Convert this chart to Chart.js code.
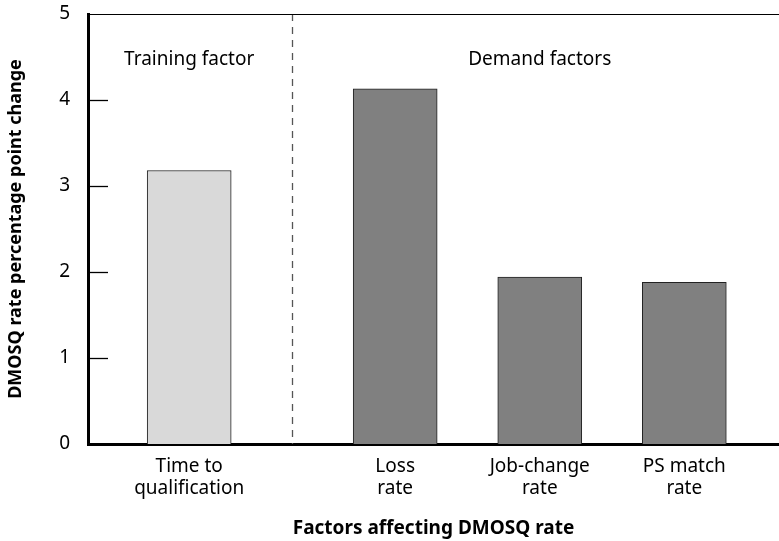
<!DOCTYPE html>
<html lang="en">
<head>
  <meta charset="UTF-8">
  <title>DMOSQ rate factors</title>
  <script src="https://cdn.jsdelivr.net/npm/chart.js"></script>
  <style>
    html, body { margin: 0; padding: 0; background: #fff; }
    #wrap { width: 779px; height: 541px; }
  </style>
</head>
<body>
  <div id="wrap"><canvas id="chart" width="779" height="541"></canvas></div>

  <script>
    // data
    const categories = [['Time to', 'qualification'], ['Loss', 'rate'], ['Job-change', 'rate'], ['PS match', 'rate']];
    const values = [3.18, 4.13, 1.94, 1.88];
    const slots = [0.7, 2.125, 3.125, 4.125];   // category positions along x (gap between groups)
    const groups = ['Training factor', 'Demand factors'];
    const groupSlots = [0.7, 3.125];
    const dividerAt = 1.4125;
    const yTicks = [0, 1, 2, 3, 4, 5];
    const barColors = ['#d9d9d9', '#808080', '#808080', '#808080'];

    const FONT = '"Noto Sans", "Open Sans", sans-serif';

    // top frame line, inward y ticks, dashed divider, group headings
    const decor = {
      id: 'decor',
      beforeDatasetsDraw(chart) {
        const { ctx, chartArea: a, scales: { x, y } } = chart;
        ctx.save();
        // dashed divider
        const dx = Math.round(x.getPixelForValue(dividerAt)) + 0.5;
        ctx.strokeStyle = '#555';
        ctx.lineWidth = 1.3;
        ctx.setLineDash([7, 6]);
        ctx.beginPath();
        ctx.moveTo(dx, a.top);
        ctx.lineTo(dx, a.bottom);
        ctx.stroke();
        ctx.setLineDash([]);
        // top line
        ctx.strokeStyle = '#000';
        ctx.lineWidth = 1.2;
        ctx.beginPath();
        ctx.moveTo(a.left, a.top + 0.5);
        ctx.lineTo(a.right, a.top + 0.5);
        ctx.stroke();
        // ticks pointing inward
        ctx.lineWidth = 1.3;
        yTicks.slice(1, -1).forEach(v => {
          const py = Math.round(y.getPixelForValue(v)) + 0.5;
          ctx.beginPath();
          ctx.moveTo(a.left, py);
          ctx.lineTo(a.left + 20, py);
          ctx.stroke();
        });
        // group headings
        ctx.fillStyle = '#000';
        ctx.font = '19px ' + FONT;
        ctx.textAlign = 'center';
        ctx.textBaseline = 'middle';
        groups.forEach((g, i) => {
          ctx.fillText(g, x.getPixelForValue(groupSlots[i]), y.getPixelForValue(4.47));
        });
        ctx.restore();
      }
    };

    new Chart(document.getElementById('chart'), {
      type: 'bar',
      data: {
        datasets: [{
          data: slots.map((s, i) => ({ x: s, y: values[i] })),
          backgroundColor: barColors,
          borderColor: '#222',
          borderWidth: 1,
          borderSkipped: 'bottom',
          barThickness: 84
        }]
      },
      options: {
        responsive: false,
        animation: false,
        layout: { padding: { top: 14, right: 0, left: 0, bottom: 0 } },
        plugins: {
          legend: { display: false },
          tooltip: { enabled: false }
        },
        scales: {
          x: {
            type: 'linear',
            offset: false,
            min: 0,
            max: 4.78,
            grid: { display: false, offset: false },
            border: { display: true, color: '#000', width: 3 },
            afterBuildTicks: scale => { scale.ticks = slots.map(v => ({ value: v })); },
            afterFit: scale => { scale.height = 97; },
            ticks: {
              autoSkip: false,
              maxRotation: 0,
              padding: 4,
              color: '#000',
              font: { family: FONT, size: 19, lineHeight: 1.16 },
              callback: (value, index) => categories[index]
            },
            title: {
              display: true,
              text: 'Factors affecting DMOSQ rate',
              color: '#000',
              font: { family: FONT, size: 19, weight: 'bold' },
              padding: { top: 0, bottom: 1 }
            }
          },
          y: {
            min: 0,
            max: 5,
            afterBuildTicks: scale => { scale.ticks = yTicks.map(v => ({ value: v })); },
            afterFit: scale => {
              scale.width = 88;
              scale.paddingTop = 0;
              scale.paddingBottom = 0;
            },
            grid: { display: false },
            border: { display: true, color: '#000', width: 3 },
            ticks: {
              padding: 10,
              color: '#000',
              font: { family: FONT, size: 19 }
            },
            title: {
              display: true,
              text: 'DMOSQ rate percentage point change',
              color: '#000',
              font: { family: FONT, size: 18, weight: 'bold' },
              padding: { top: 5, bottom: 0 }
            }
          }
        }
      },
      plugins: [decor]
    });
  </script>
</body>
</html>
